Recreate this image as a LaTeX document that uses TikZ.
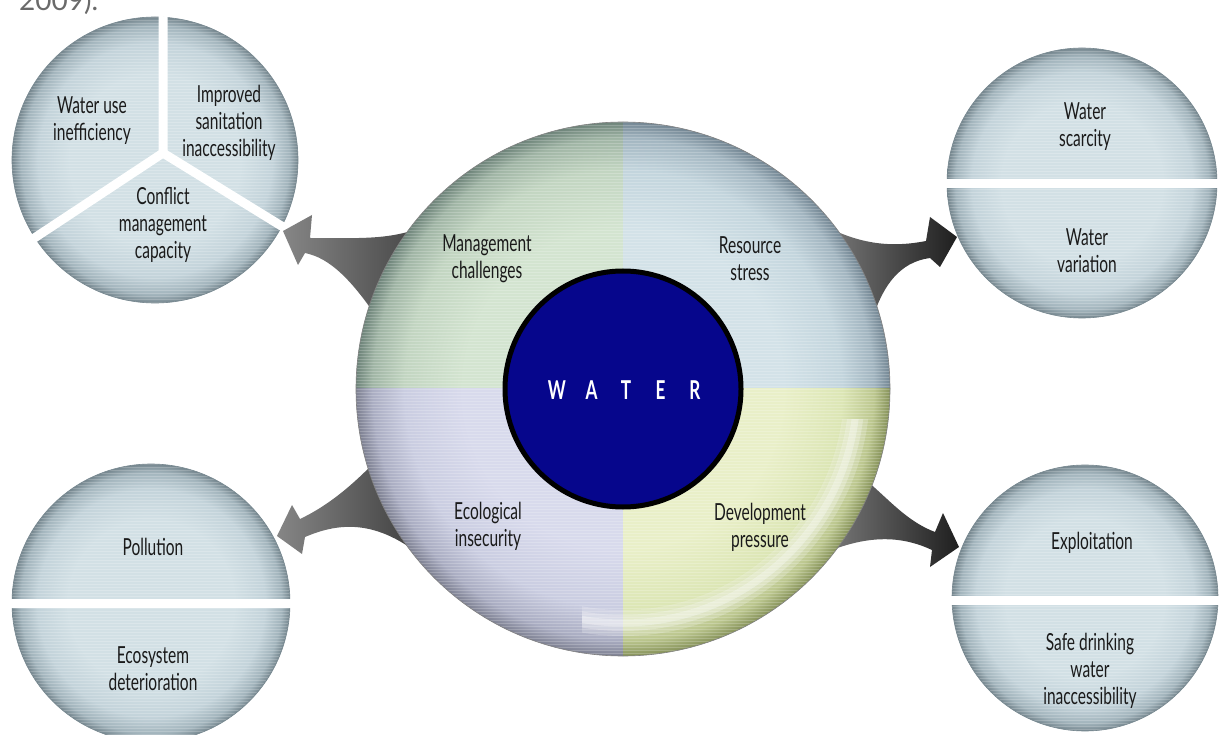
\documentclass[tikz,border=0pt]{standalone}
\usepackage{fontspec}
\setmainfont{Lato}[FakeStretch=0.66]
\newfontfamily\plainfont{Lato}
\definecolor{txt}{HTML}{1A1A1A}
\definecolor{capgray}{HTML}{6A6A6A}
\definecolor{navy}{HTML}{06068C}
\definecolor{satA}{HTML}{D2E0E5}\definecolor{satB}{HTML}{C3D3DA}\definecolor{satC}{HTML}{A2B4BC}\definecolor{satD}{HTML}{76878F}
\definecolor{gA}{HTML}{D3E4D0}\definecolor{gB}{HTML}{C2D5C1}\definecolor{gC}{HTML}{A0B5A5}\definecolor{gD}{HTML}{6E847A}
\definecolor{bA}{HTML}{D3E2E8}\definecolor{bB}{HTML}{C3D5DD}\definecolor{bC}{HTML}{A2B5C0}\definecolor{bD}{HTML}{748794}
\definecolor{lA}{HTML}{D8DAEC}\definecolor{lB}{HTML}{CACDE1}\definecolor{lC}{HTML}{AAADC2}\definecolor{lD}{HTML}{7E8192}
\definecolor{yA}{HTML}{E9EFC8}\definecolor{yB}{HTML}{DCE6B5}\definecolor{yC}{HTML}{BCC78F}\definecolor{yD}{HTML}{86925A}
\pgfdeclareradialshading{satball}{\pgfpoint{0bp}{0bp}}{color(0bp)=(satA); color(15bp)=(satA); color(20.5bp)=(satB); color(23.5bp)=(satC); color(25bp)=(satD); color(50bp)=(satD)}
\pgfdeclareradialshading{gball}{\pgfpoint{0bp}{0bp}}{color(0bp)=(gA); color(15bp)=(gA); color(20.5bp)=(gB); color(23.5bp)=(gC); color(25bp)=(gD); color(50bp)=(gD)}
\pgfdeclareradialshading{bball}{\pgfpoint{0bp}{0bp}}{color(0bp)=(bA); color(15bp)=(bA); color(20.5bp)=(bB); color(23.5bp)=(bC); color(25bp)=(bD); color(50bp)=(bD)}
\pgfdeclareradialshading{lball}{\pgfpoint{0bp}{0bp}}{color(0bp)=(lA); color(15bp)=(lA); color(20.5bp)=(lB); color(23.5bp)=(lC); color(25bp)=(lD); color(50bp)=(lD)}
\pgfdeclareradialshading{yball}{\pgfpoint{0bp}{0bp}}{color(0bp)=(yA); color(15bp)=(yA); color(20.5bp)=(yB); color(23.5bp)=(yC); color(25bp)=(yD); color(50bp)=(yD)}
\newcommand\mystripes[3]{%
  \begin{scope}
    \clip (#1,#2) circle[radius=#3pt];
    \foreach \k in {0,3,...,540} {\draw[white, opacity=0.2, line width=0.7pt] (#1-#3,#2-#3+\k) -- (#1+#3,#2-#3+\k);}
  \end{scope}}
\tikzset{
  lbl/.style={align=center, text=txt, font=\fontsize{23.5}{27}\selectfont, inner sep=0pt},
  sepline/.style={white, line width=9pt},
  rim/.style={line width=0.6pt},
}
\begin{document}
\begin{tikzpicture}[x=1pt,y=-1pt]
\useasboundingbox (0,0) rectangle (1219,735);
\fill[white] (0,0) rectangle (1219,735);

% caption fragment, cut by the top edge as in the source page
\node[anchor=base west, inner sep=0pt, font=\plainfont\fontsize{28}{28}\selectfont, text=capgray] (cap) at (19,11) {2009).};

% ---------- satellites ----------
% top left
\coordinate (tl) at (155,160);
\shade[shading=satball] (tl) circle[radius=143pt];
\mystripes{155}{160}{143}
\draw[rim, satD] (tl) circle[radius=143pt];
\begin{scope}
  \clip (tl) circle[radius=144pt];
  \coordinate (ty) at (163,153);
  \draw[sepline] (163,0) -- (ty) -- (-11,268);
  \draw[sepline] (ty) -- (343,264);
\end{scope}
% top right
\coordinate (tr) at (1082,183);
\shade[shading=satball] (tr) circle[radius=135pt];
\mystripes{1082}{183}{135}
\draw[rim, satD] (tr) circle[radius=135pt];
\begin{scope}
  \clip (tr) circle[radius=136pt];
  \draw[sepline] (940,184) -- (1230,184);
\end{scope}
% bottom left
\coordinate (bl) at (151,603);
\shade[shading=satball] (bl) circle[radius=139pt];
\mystripes{151}{603}{139}
\draw[rim, satD] (bl) circle[radius=139pt];
\begin{scope}
  \clip (bl) circle[radius=140pt];
  \draw[sepline] (0,603) -- (300,603);
\end{scope}
% bottom right
\coordinate (br) at (1085,598);
\shade[shading=satball] (br) circle[radius=133pt];
\mystripes{1085}{598}{133}
\draw[rim, satD] (br) circle[radius=133pt];
\begin{scope}
  \clip (br) circle[radius=134pt];
  \draw[sepline] (940,600) -- (1230,600);
\end{scope}

% ---------- arrows ----------
\shade[left color=gray!95!white, right color=black!78] (450,210)
  .. controls (410,242) and (370,238) .. (310,238)
  -- (312,215) -- (283,231) -- (298,265) -- (305,253)
  .. controls (330,258) and (352,280) .. (380,322) -- cycle;
\shade[left color=gray!90!white, right color=black!88] (800,212)
  .. controls (845,240) and (880,250) .. (926,241)
  -- (930,217) -- (957,237) -- (940,267) -- (930,258)
  .. controls (900,262) and (880,285) .. (868,335) -- cycle;
\shade[left color=gray!95!white, right color=black!78] (400,435)
  .. controls (370,468) and (340,500) .. (300,519)
  -- (292,505) -- (277,536) -- (302,554) -- (305,537)
  .. controls (340,522) and (380,518) .. (432,565) -- cycle;
\shade[left color=gray!90!white, right color=black!88] (820,455)
  .. controls (870,468) and (890,515) .. (935,532)
  -- (943,513) -- (959,547) -- (930,567) -- (932,550)
  .. controls (900,535) and (860,532) .. (800,565) -- cycle;

% ---------- main circle ----------
\coordinate (c) at (623,389);
\begin{scope}\clip (350,115) rectangle (623,389);
  \shade[shading=gball] (c) circle[radius=267pt];\end{scope}
\begin{scope}\clip (623,115) rectangle (895,389);
  \shade[shading=bball] (c) circle[radius=267pt];\end{scope}
\begin{scope}\clip (350,389) rectangle (623,660);
  \shade[shading=lball] (c) circle[radius=267pt];\end{scope}
\begin{scope}\clip (623,389) rectangle (895,660);
  \shade[shading=yball] (c) circle[radius=267pt];\end{scope}
\mystripes{623}{389}{267}
\begin{scope}
  \clip (582,420) rectangle (900,665);
  \draw[white, opacity=0.2, line width=26pt] (c) circle[radius=234pt];
  \draw[white, opacity=0.25, line width=16pt] (c) circle[radius=234pt];
  \draw[white, opacity=0.3, line width=7pt] (c) circle[radius=234pt];
\end{scope}
\draw[rim, black!50] (c) circle[radius=267pt];

\draw[line width=5pt, draw=black, fill=navy] (c) circle[radius=118pt];
\node[inner sep=0pt, text=white, font=\fontsize{26}{28}\selectfont\bfseries] (water) at (626,390)
  {\makebox[34.5pt]{W}\makebox[34.5pt]{A}\makebox[34.5pt]{T}\makebox[34.5pt]{E}\makebox[34.5pt]{R}};

% ---------- labels ----------
\node[lbl] (mc) at (487,259) {Management\\challenges};
\node[lbl] (rs) at (750,259) {Resource\\stress};
\node[lbl] (ei) at (488,526) {Ecological\\insecurity};
\node[lbl] (dp) at (760,527) {Development\\pressure};

\node[lbl] (wu) at (92,121) {Water use\\inefficiency};
\node[lbl] (is) at (229,123) {Improved\\sanitation\\inaccessibility};
\node[lbl] (cm) at (163,225) {Conflict\\management\\capacity};

\node[lbl] (ws) at (1085,127) {Water\\scarcity};
\node[lbl] (wv) at (1087,251) {Water\\variation};

\node[lbl] (po) at (153,547) {Pollution};
\node[lbl] (ed) at (153,669) {Ecosystem\\deterioration};

\node[lbl] (ex) at (1092,543) {Exploitation};
\node[lbl] (sd) at (1090,671) {Safe drinking\\water\\inaccessibility};
\end{tikzpicture}
\end{document}
